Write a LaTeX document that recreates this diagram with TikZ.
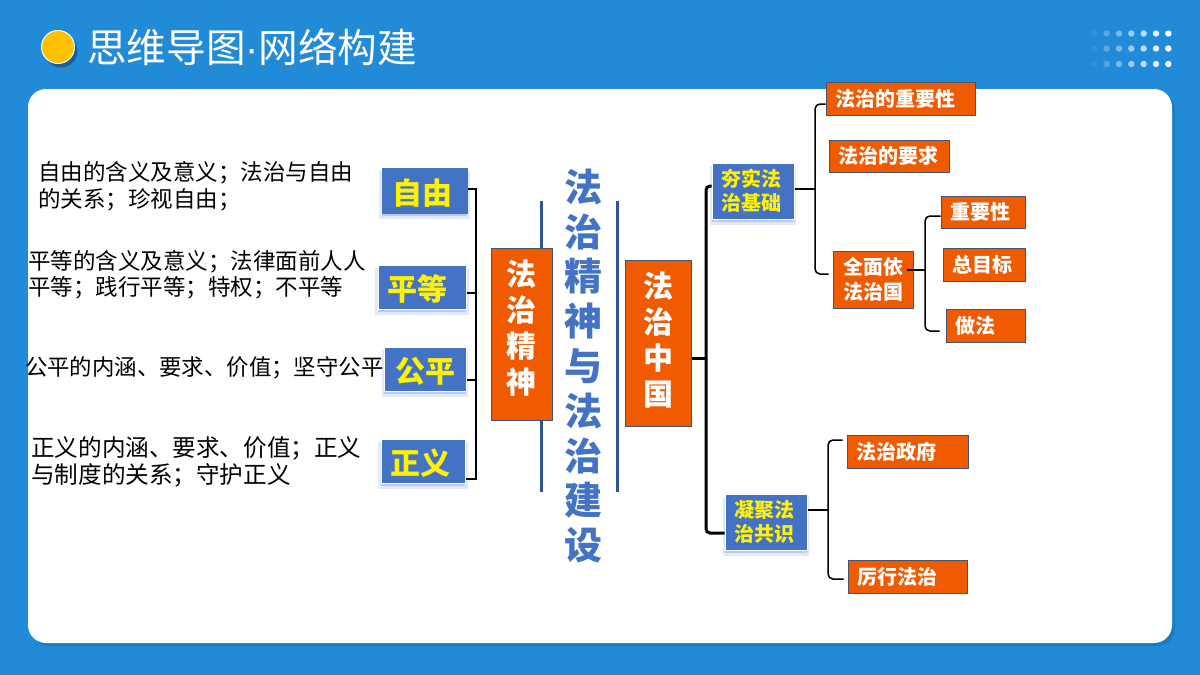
\documentclass[tikz,border=0pt]{standalone}
\usepackage{fontspec}
\usepackage{xcolor}
\usetikzlibrary{shadows}
\setmainfont{Noto Sans CJK SC}
\newfontfamily\dotfont{Liberation Sans}
\definecolor{bgblue}{HTML}{228BD8}
\definecolor{boxblue}{HTML}{4472C4}
\definecolor{linkblue}{HTML}{2F5597}
\definecolor{boxorange}{HTML}{F05A00}
\definecolor{edgegray}{HTML}{44546A}
\definecolor{titlegold}{HTML}{FFC000}

\begin{document}
\begin{tikzpicture}[x=1pt, y=-1pt]
    % Define styles
    \tikzstyle{keyword} = [rectangle, draw=white, line width=1pt, fill=boxblue, text=yellow, inner xsep=10pt, inner ysep=0pt, align=left, font=\fontsize{30}{34}\selectfont\bfseries, drop shadow={shadow scale=1.06, shadow xshift=0pt, shadow yshift=-4pt, fill=boxblue, opacity=0.15}, drop shadow={shadow xshift=0pt, shadow yshift=-3pt, fill=boxblue, opacity=0.25}]
    \tikzstyle{subtopic} = [keyword, inner xsep=9pt, font=\fontsize{20}{24}\selectfont\bfseries]
    \tikzstyle{topic} = [rectangle, draw=edgegray, line width=1pt, fill=boxorange, text=white, inner sep=0pt, align=center, font=\fontsize{30}{36}\selectfont\bfseries]
    \tikzstyle{leaf} = [rectangle, draw=edgegray, line width=1pt, fill=boxorange, text=white, inner xsep=9pt, inner ysep=0pt, align=left, font=\fontsize{20}{24}\selectfont\bfseries]
    \tikzstyle{note} = [anchor=west, inner sep=0pt, align=left, text=black]
    \tikzstyle{trunk} = [black, line width=3pt, rounded corners=4pt]
    \tikzstyle{brace} = [black, line width=1.5pt, rounded corners=5pt]
    \tikzstyle{stem} = [black, line width=2.5pt]
    \tikzstyle{divider} = [linkblue, line width=3pt]

    \useasboundingbox (0,0) rectangle (1200,675);

    % Background
    \fill [bgblue] (0,0) rectangle (1200,675);
    \fill [white, rounded corners=18pt, drop shadow={shadow xshift=3pt, shadow yshift=-3pt, fill=black, opacity=0.12}] (28,89) rectangle (1172,643);

    % Title
    \draw [white, line width=1pt, fill=titlegold, drop shadow={shadow xshift=3pt, shadow yshift=-4pt, fill=black, opacity=0.3}] (58,47) circle (16.5);
    \node (title) [anchor=west, inner sep=0pt, text=white, font=\fontsize{39.6}{40}\selectfont] at (87,47) {思维导图{\dotfont ·}网络构建};
    \foreach \row in {33.5,48.5,64} {
        \foreach \col/\alpha in {1094.3/0.07,1106.7/0.25,1119/0.4,1131.3/0.55,1143.7/0.7,1156/0.88,1168.3/1} {
            \fill [white, opacity=\alpha] (\col,\row) circle (3.2);
        }
    }

    % Dividers
    \coordinate (left_top) at (541,201);
    \coordinate (left_end) at (541,492);
    \coordinate (right_top) at (617,201);
    \coordinate (right_end) at (617,492);
    \draw [divider] (left_top) -- (left_end);
    \draw [divider] (right_top) -- (right_end);

    % Nodes
    \node (heading) [inner sep=0pt, align=center, text=boxblue, font=\fontsize{38}{44.8}\selectfont\bfseries] at (583,366) {法\\治\\精\\神\\与\\法\\治\\建\\设};
    \node (freedom_note) [note, font=\fontsize{22.5}{27}\selectfont] at (38,186) {自由的含义及意义；法治与自由\\的关系；珍视自由；};
    \node (equality_note) [note, font=\fontsize{22.5}{26}\selectfont] at (28,275) {平等的含义及意义；法律面前人人\\平等；践行平等；特权；不平等};
    \node (fairness_note) [note, font=\fontsize{22.4}{27}\selectfont] at (25,368) {公平的内涵、要求、价值；坚守公平};
    \node (justice_note) [note, font=\fontsize{23.6}{27}\selectfont] at (31,462) {正义的内涵、要求、价值；正义\\与制度的关系；守护正义};

    \node (freedom) [keyword, draw=boxblue, text width=65pt, minimum height=45pt] at (424.5,190.5) {\rule{0pt}{30pt}自由};
    \node (equality) [keyword, inner xsep=9pt, text width=70pt, minimum height=44pt] at (422,287) {\rule{0pt}{30pt}平等};
    \node (fairness) [keyword, inner xsep=11pt, text width=60pt, minimum height=44pt] at (425,369) {\rule{0pt}{30pt}公平};
    \node (justice) [keyword, inner xsep=9pt, text width=66pt, minimum height=44pt] at (423,461) {\rule{0pt}{30pt}正义};
    \node (spirit) [topic, minimum width=61pt, minimum height=172pt] at (521.5,334) {法\\治\\精\\神\rule[-14pt]{0pt}{14pt}};
    \node (china) [topic, minimum width=66pt, minimum height=166pt] at (658,343) {法\\治\\中\\国\rule[-8pt]{0pt}{8pt}};

    \node (foundation) [subtopic, text width=64pt, minimum height=56pt] at (753,191) {夯实法\\治基础};
    \node (consensus) [subtopic, text width=64pt, minimum height=56pt] at (766,522) {凝聚法\\治共识};

    \node (importance) [leaf, text width=131pt, minimum height=33pt] at (900.5,98.5) {法治的重要性};
    \node (requirement) [leaf, text width=102pt, minimum height=32pt] at (889,156) {法治的要求};
    \node (rule_of_law) [leaf, align=center, text width=62pt, minimum height=57pt, font=\fontsize{20}{25}\selectfont\bfseries] at (873,279.5) {全面依\\法治国};
    \node (significance) [leaf, text width=66pt, minimum height=32pt] at (983,212) {重要性};
    \node (goal) [leaf, text width=64pt, minimum height=33pt] at (984,264.5) {总目标};
    \node (practice) [leaf, text width=61pt, minimum height=33pt] at (985.5,325.5) {做法};
    \node (government) [leaf, text width=103pt, minimum height=33pt] at (907.5,451.5) {法治政府};
    \node (enforcement) [leaf, text width=101pt, minimum height=33pt] at (907.5,576.5) {厉行法治};

    % Left bracket
    \coordinate (left_upper) at (476,189);
    \coordinate (left_lower) at (476,479);
    \draw [black, line width=2pt] (freedom.east |- left_upper) -- (left_upper) -- (left_lower) -- ([yshift=-18pt]justice.east);
    \draw [black, line width=2pt] ([yshift=-6pt]equality.east) -- ++(10pt,0pt);
    \draw [black, line width=2pt] ([yshift=-11pt]fairness.east) -- ++(9pt,0pt);

    % Arrows
    \coordinate (china_fork) at (706,358);
    \draw [black, line width=3pt] ([yshift=-15pt]china.east) -- (china_fork);
    \draw [trunk] (china_fork) |- ([yshift=5pt]foundation.west);
    \draw [trunk] (china_fork) |- ([yshift=-11pt]consensus.west);

    \coordinate (foundation_fork) at (815,189);
    \draw [stem] (foundation.east |- foundation_fork) -- (foundation_fork);
    \draw [brace] (foundation_fork) |- ([yshift=-5.5pt]importance.west);
    \draw [brace] (foundation_fork) |- ([xshift=-4pt, yshift=5.5pt]rule_of_law.west);

    \coordinate (rule_fork) at (925,270);
    \draw [stem] ([xshift=-7pt]rule_of_law.east |- rule_fork) -- (rule_fork);
    \draw [brace] (rule_fork) |- ([yshift=-4pt]significance.west);
    \draw [brace] (rule_fork) |- ([xshift=-6pt, yshift=-5.5pt]practice.west);

    \coordinate (consensus_fork) at (828,510);
    \draw [stem] (consensus.east |- consensus_fork) -- (consensus_fork);
    \draw [brace] (consensus_fork) |- ([xshift=-4pt, yshift=11.5pt]government.west);
    \draw [brace] (consensus_fork) |- ([xshift=-4pt, yshift=-2.5pt]enforcement.west);
\end{tikzpicture}
\end{document}
